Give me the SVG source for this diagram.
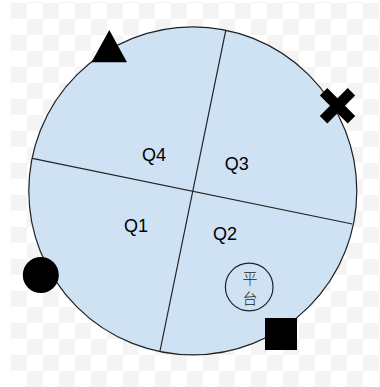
<svg xmlns="http://www.w3.org/2000/svg" width="380" height="387" viewBox="0 0 380 387">
  <style>
    .q { font-family: "Liberation Sans", Arial, sans-serif; font-size: 18px; fill: #000; text-anchor: middle; }
    .cjk { font-family: "Noto Sans CJK SC", "Noto Sans CJK JP", sans-serif; font-size: 15px; font-weight: 300; fill: #222; text-anchor: middle; }
    .div { stroke: #222; stroke-width: 1.2; fill: none; }
    .mark { fill: #000; }
  </style>
  <defs>
    <pattern id="checker" x="11" y="3" width="32" height="32" patternUnits="userSpaceOnUse">
      <rect x="0" y="0" width="32" height="32" fill="#ffffff"/>
      <rect x="0" y="0" width="16" height="16" fill="#f4f4f4"/>
      <rect x="16" y="16" width="16" height="16" fill="#f4f4f4"/>
    </pattern>
  </defs>
  <rect x="0" y="0" width="380" height="387" fill="#ffffff"/>
  <rect x="11" y="2" width="369" height="385" fill="url(#checker)"/>

  <g id="disk">
    <circle cx="192.8" cy="190.9" r="164" fill="#cfe2f3" stroke="#222" stroke-width="1.2"/>
  </g>

  <g id="dividers">
    <line class="div" x1="225.7" y1="30.7" x2="160" y2="351"/>
    <line class="div" x1="32.3" y1="158.3" x2="352.3" y2="224"/>
  </g>

  <g id="q4"><text class="q" x="154" y="160.7">Q4</text></g>
  <g id="q3"><text class="q" x="236.7" y="170">Q3</text></g>
  <g id="q1"><text class="q" x="136" y="231.7">Q1</text></g>
  <g id="q2"><text class="q" x="225" y="240">Q2</text></g>

  <g id="platform">
    <circle cx="249.2" cy="287" r="23.8" fill="none" stroke="#222" stroke-width="1.2"/>
    <text class="cjk" x="250" y="283.5">平</text>
    <text class="cjk" x="250" y="303.5">台</text>
  </g>

  <g id="triangle">
    <polygon class="mark" points="109.3,30 127,62.3 91.5,62.3"/>
  </g>

  <g id="cross">
    <polygon class="mark" transform="translate(337.5,105.8) rotate(45)" points="-5.3,-19.7 5.3,-19.7 5.3,-5.3 19.7,-5.3 19.7,5.3 5.3,5.3 5.3,19.7 -5.3,19.7 -5.3,5.3 -19.7,5.3 -19.7,-5.3 -5.3,-5.3"/>
  </g>

  <g id="dot">
    <circle class="mark" cx="40.8" cy="275" r="18"/>
  </g>

  <g id="square">
    <rect class="mark" x="265" y="318" width="32" height="32"/>
  </g>
</svg>
